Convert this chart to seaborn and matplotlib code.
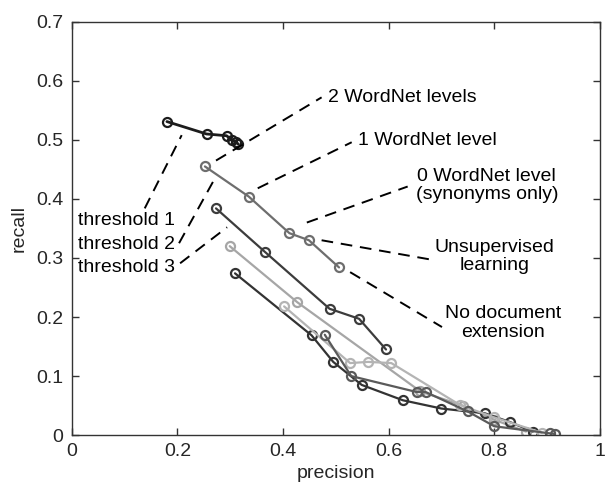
import matplotlib
matplotlib.use("Agg")
import matplotlib.pyplot as plt
import seaborn as sns
import pandas as pd

# ---- data (precision, recall) ----
series_names = ["A", "B", "C", "D", "E", "F", "H"]
series_colors = ["#1c1c1c", "#6e6e6e", "#3c3c3c", "#a6a6a6", "#333333", "#b4b4b4", "#5a5a5a"]

prec_A = [0.180, 0.255, 0.293, 0.303, 0.310, 0.315]
rec_A = [0.531, 0.510, 0.507, 0.500, 0.497, 0.493]

prec_B = [0.252, 0.335, 0.412, 0.449, 0.506]
rec_B = [0.455, 0.404, 0.342, 0.330, 0.284]

prec_C = [0.273, 0.366, 0.488, 0.544, 0.595]
rec_C = [0.384, 0.310, 0.214, 0.197, 0.145]

prec_D = [0.299, 0.427, 0.660, 0.740, 0.800, 0.860]
rec_D = [0.320, 0.225, 0.074, 0.050, 0.026, 0.006]

prec_E = [0.309, 0.454, 0.495, 0.549, 0.627, 0.700, 0.782, 0.830, 0.873]
rec_E = [0.274, 0.169, 0.124, 0.085, 0.059, 0.045, 0.037, 0.022, 0.006]

prec_F = [0.402, 0.527, 0.561, 0.605, 0.735, 0.800, 0.890]
rec_F = [0.218, 0.122, 0.124, 0.122, 0.051, 0.030, 0.004]

prec_H = [0.479, 0.529, 0.653, 0.670, 0.750, 0.800, 0.905, 0.915]
rec_H = [0.170, 0.100, 0.073, 0.073, 0.040, 0.015, 0.003, 0.002]

precisions = [prec_A, prec_B, prec_C, prec_D, prec_E, prec_F, prec_H]
recalls = [rec_A, rec_B, rec_C, rec_D, rec_E, rec_F, rec_H]

x_ticks = [0, 0.2, 0.4, 0.6, 0.8, 1]
x_tick_labels = ["0", "0.2", "0.4", "0.6", "0.8", "1"]
y_ticks = [0, 0.1, 0.2, 0.3, 0.4, 0.5, 0.6, 0.7]
y_tick_labels = ["0", "0.1", "0.2", "0.3", "0.4", "0.5", "0.6", "0.7"]

# annotations: text, text position, leader line (start, end), alignment
annotations = [
    ("2 WordNet levels", (0.485, 0.572), ((0.273, 0.465), (0.473, 0.572)), "left"),
    ("1 WordNet level", (0.542, 0.499), ((0.352, 0.418), (0.530, 0.496)), "left"),
    ("0 WordNet level\n(synonyms only)", (0.786, 0.423), ((0.445, 0.360), (0.636, 0.421)), "center"),
    ("Unsupervised\nlearning", (0.801, 0.303), ((0.473, 0.330), (0.688, 0.296)), "center"),
    ("No document\nextension", (0.816, 0.190), ((0.527, 0.276), (0.701, 0.183)), "center"),
    ("threshold 1", (0.011, 0.364), ((0.138, 0.384), (0.208, 0.508)), "left"),
    ("threshold 2", (0.011, 0.323), ((0.203, 0.325), (0.271, 0.435)), "left"),
    ("threshold 3", (0.011, 0.284), ((0.205, 0.291), (0.294, 0.352)), "left"),
]

rows = []
for name, px, ry in zip(series_names, precisions, recalls):
    for i, (a, b) in enumerate(zip(px, ry)):
        rows.append({"series": name, "order": i, "precision": a, "recall": b})
df = pd.DataFrame(rows)

sns.set_theme(style="white")
plt.rcParams["font.family"] = ["Liberation Sans", "DejaVu Sans"]

fig = plt.figure(figsize=(6.09, 4.84), dpi=100)
ax = fig.add_axes([0.118, 0.101, 0.867, 0.854])

for name, col in zip(series_names, series_colors):
    sub = df[df["series"] == name]
    lw = 2.0 if name == "A" else 1.6
    sns.lineplot(data=sub, x="precision", y="recall", ax=ax, sort=False,
                 estimator=None, color=col, linewidth=lw, marker="o",
                 markersize=6.5, markerfacecolor="none", markeredgecolor=col,
                 markeredgewidth=1.6, legend=False)

for text, tpos, (p0, p1), ha in annotations:
    ax.plot([p0[0], p1[0]], [p0[1], p1[1]], color="black", linewidth=1.4,
            dashes=(6, 4))
    ax.text(tpos[0], tpos[1], text, ha=ha, va="center", fontsize=14,
            color="black", linespacing=1.1)

ax.set_xlim(0, 1)
ax.set_ylim(0, 0.7)
ax.set_xticks(x_ticks)
ax.set_xticklabels(x_tick_labels)
ax.set_yticks(y_ticks)
ax.set_yticklabels(y_tick_labels)
ax.tick_params(direction="in", length=5, width=1, colors="#333333",
               labelsize=14, labelcolor="#262626", top=True, right=True,
               bottom=True, left=True, pad=6)
for s in ax.spines.values():
    s.set_visible(True)
    s.set_color("#333333")
    s.set_linewidth(1.0)
ax.set_xlabel("precision", fontsize=14, color="#262626", labelpad=3)
ax.set_ylabel("recall", fontsize=14, color="#262626", labelpad=6)
ax.grid(False)

fig.savefig("out.png", dpi=100)
